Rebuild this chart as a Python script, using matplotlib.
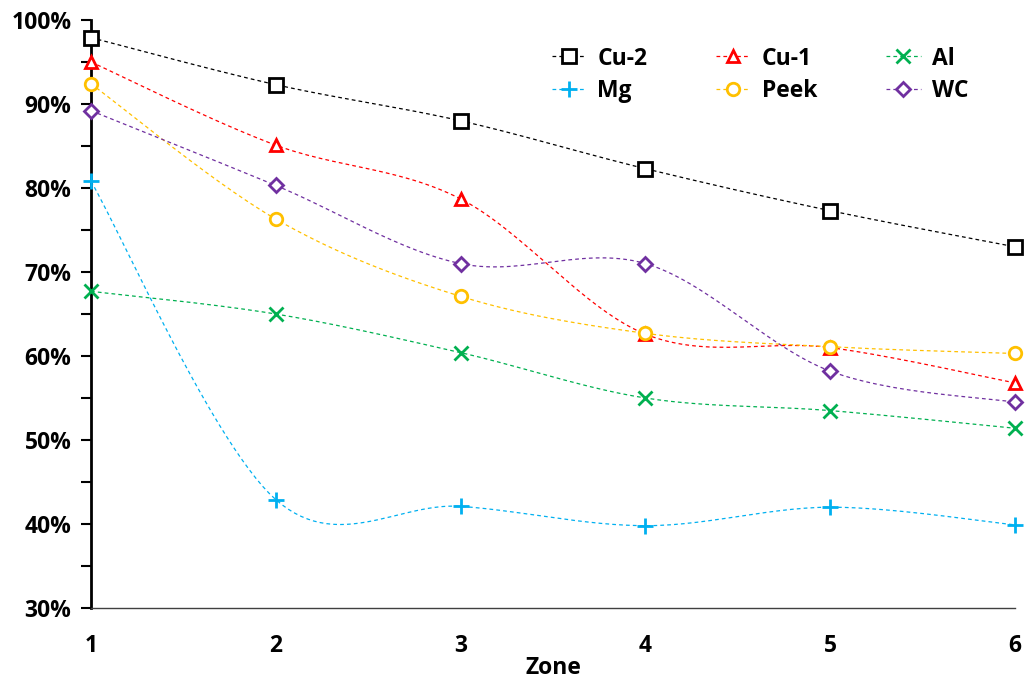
import numpy as np
import matplotlib
matplotlib.use("Agg")
import matplotlib.pyplot as plt
from matplotlib.ticker import MultipleLocator, FuncFormatter

plt.rcParams['font.family'] = ['Open Sans', 'DejaVu Sans']
plt.rcParams['font.weight'] = 'bold'

zones = [1, 2, 3, 4, 5, 6]
cu2 = [97.9, 92.3, 88.0, 82.3, 77.3, 73.0]
cu1 = [95.0, 85.1, 78.7, 62.6, 61.0, 56.8]
al = [67.7, 65.0, 60.4, 55.0, 53.5, 51.4]
mg = [80.8, 42.9, 42.1, 39.8, 42.0, 39.9]
peek = [92.4, 76.3, 67.1, 62.7, 61.1, 60.3]
wc = [89.2, 80.3, 71.0, 71.0, 58.2, 54.5]

names = ["Cu-2", "Cu-1", "Al", "Mg", "Peek", "WC"]
series = [cu2, cu1, al, mg, peek, wc]
colors = ["#000000", "#FF0000", "#00B050", "#00B0F0", "#FFC000", "#7030A0"]
markers = ["s", "^", "x", "+", "o", "D"]
msizes = [10, 9, 10, 11, 9, 7]


def smooth(x, y, n=30):
    # excel-like smoothed line (catmull-rom through the points)
    x = np.asarray(x, float)
    y = np.asarray(y, float)
    px = np.concatenate([[x[0]], x, [x[-1]]])
    py = np.concatenate([[y[0]], y, [y[-1]]])
    xs, ys = [], []
    t = np.linspace(0, 1, n)
    for i in range(1, len(px) - 2):
        p0, p1, p2, p3 = np.array([px[i - 1], py[i - 1]]), np.array([px[i], py[i]]), \
            np.array([px[i + 1], py[i + 1]]), np.array([px[i + 2], py[i + 2]])
        c1 = p1 + (p2 - p0) / 6
        c2 = p2 - (p3 - p1) / 6
        pts = ((1 - t) ** 3)[:, None] * p1 + (3 * (1 - t) ** 2 * t)[:, None] * c1 + \
            (3 * (1 - t) * t ** 2)[:, None] * c2 + (t ** 3)[:, None] * p2
        xs.extend(pts[:, 0])
        ys.extend(pts[:, 1])
    return xs, ys


fig = plt.figure(figsize=(10.26, 6.84), dpi=100)
ax = fig.add_axes([91 / 1026, 1 - 608 / 684, (1015 - 91) / 1026, (608 - 20) / 684])

handles = []
for name, y, c, m, ms in zip(names, series, colors, markers, msizes):
    mfc = "white" if m not in ("x", "+") else c
    sx, sy = smooth(zones, y)
    ax.plot(sx, sy, color=c, lw=0.9, ls=(0, (3, 2.5)), clip_on=False)
    ax.plot(zones, y, ls="none", marker=m, ms=ms, mew=2, mfc=mfc,
            mec=c, color=c, clip_on=False, zorder=3)
    h, = ax.plot([], [], color=c, lw=0.9, ls=(0, (3, 2.5)), marker=m, ms=ms, mew=2,
                 mfc=mfc, mec=c, label=name)
    handles.append(h)

ax.set_xlim(1, 6)
ax.set_ylim(30, 100)
ax.yaxis.set_major_locator(MultipleLocator(10))
ax.yaxis.set_minor_locator(MultipleLocator(5))
ax.yaxis.set_major_formatter(FuncFormatter(lambda v, p: "{:.0f}%".format(v)))
ax.set_xticks(zones)
ax.tick_params(axis="y", which="both", direction="out", length=7, width=1.5, labelsize=16.5, pad=7)
ax.tick_params(axis="x", length=0, labelsize=16.5, pad=19)
for lab in ax.get_xticklabels() + ax.get_yticklabels():
    lab.set_fontweight("bold")
ax.spines["top"].set_visible(False)
ax.spines["right"].set_visible(False)
ax.spines["left"].set_linewidth(2)
ax.spines["bottom"].set_linewidth(1)
ax.spines["bottom"].set_color("#404040")
ax.set_xlabel("Zone", fontsize=16.5, fontweight="bold", labelpad=-2)

order = [0, 3, 1, 4, 2, 5]
leg = ax.legend([handles[i] for i in order], [names[i] for i in order], ncol=3, loc="upper right",
                bbox_to_anchor=(0.972, 0.99), frameon=False, fontsize=16.5, handlelength=1.5,
                columnspacing=3.0, labelspacing=0.38, handletextpad=0.5)
for t in leg.get_texts():
    t.set_fontweight("bold")

fig.savefig("out.png", dpi=100)
